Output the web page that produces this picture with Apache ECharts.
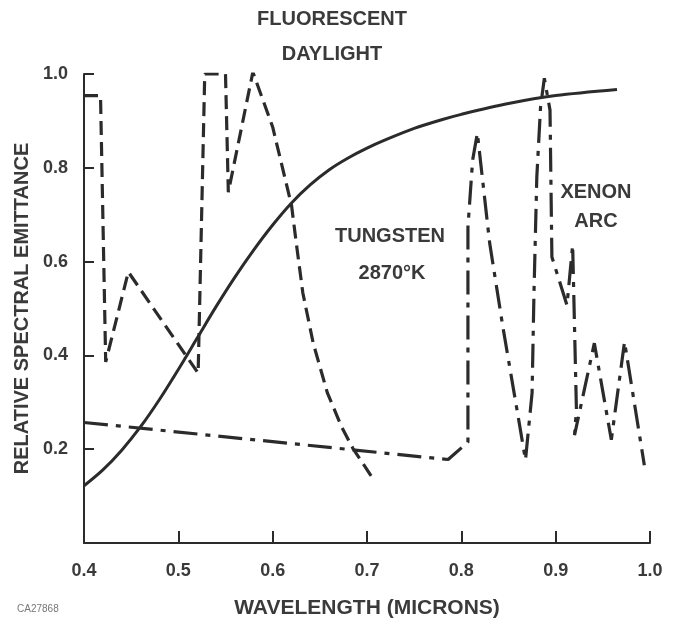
<!DOCTYPE html>
<html>
<head>
<meta charset="utf-8">
<script src="https://cdn.jsdelivr.net/npm/echarts@6/dist/echarts.min.js"></script>
<style>
html,body{margin:0;padding:0;background:#fff;}
#c{width:678px;height:625px;}
</style>
</head>
<body>
<div id="c"></div>
<script>
// ---- data ----
const xTicks = [0.4, 0.5, 0.6, 0.7, 0.8, 0.9, 1.0];
const yTicks = [0.2, 0.4, 0.6, 0.8, 1.0];

const tungstenX = [0.40, 0.42, 0.44, 0.46, 0.48, 0.50, 0.52, 0.54, 0.56, 0.58, 0.60, 0.62, 0.64, 0.66, 0.68, 0.70, 0.72, 0.75, 0.78, 0.80, 0.85, 0.90, 0.965];
const tungstenY = [0.122, 0.156, 0.198, 0.248, 0.306, 0.370, 0.437, 0.504, 0.567, 0.625, 0.678, 0.725, 0.764, 0.796, 0.821, 0.842, 0.860, 0.884, 0.903, 0.914, 0.937, 0.954, 0.967];

const fluorX = [0.400, 0.4175, 0.423, 0.447, 0.521, 0.528, 0.550, 0.553, 0.579, 0.600, 0.611, 0.620, 0.625, 0.632, 0.643, 0.658, 0.673, 0.685, 0.705];
const fluorY = [0.954, 0.954, 0.386, 0.578, 0.362, 1.000, 1.000, 0.748, 1.004, 0.887, 0.795, 0.720, 0.640, 0.533, 0.426, 0.320, 0.248, 0.202, 0.141];

const xenonX = [0.400, 0.786, 0.807, 0.807, 0.812, 0.817, 0.830, 0.844, 0.859, 0.868, 0.875, 0.877, 0.880, 0.884, 0.888, 0.894, 0.896, 0.912, 0.918, 0.922, 0.920, 0.941, 0.959, 0.973, 0.994];
const xenonY = [0.257, 0.178, 0.215, 0.674, 0.817, 0.874, 0.640, 0.461, 0.284, 0.177, 0.320, 0.533, 0.780, 0.930, 0.991, 0.923, 0.610, 0.507, 0.635, 0.284, 0.230, 0.426, 0.220, 0.429, 0.166];

const zip = (xs, ys) => xs.map((x, i) => [x, ys[i]]);

const ink = '#2b2b2b';
const txt = '#3a3a3a';
const font = 'Liberation Sans, Arial, sans-serif';
const annot = (text, x, y) => ({type: 'text', x: x, y: y, silent: true,
  style: {text: text, fontFamily: font, fontWeight: 'bold', fontSize: 20, fill: txt, align: 'center', verticalAlign: 'middle'}});

const chart = echarts.init(document.getElementById('c'), null, {renderer: 'canvas'});
chart.setOption({
  backgroundColor: '#ffffff',
  animation: false,
  grid: {left: 84, right: 28, top: 74, bottom: 82},
  xAxis: {
    type: 'value', min: 0.4, max: 1.0, interval: 0.1,
    name: 'WAVELENGTH (MICRONS)', nameLocation: 'middle', nameGap: 55,
    nameTextStyle: {fontFamily: font, fontWeight: 'bold', fontSize: 21, color: txt},
    axisLine: {show: true, onZero: false, lineStyle: {color: ink, width: 2}},
    axisTick: {show: true, inside: true, length: 12, lineStyle: {color: ink, width: 2}},
    axisLabel: {fontFamily: font, fontWeight: 'bold', fontSize: 18, color: txt, margin: 19,
      formatter: v => v.toFixed(1)},
    splitLine: {show: false}
  },
  yAxis: {
    type: 'value', min: 0, max: 1.0, interval: 0.2,
    name: 'RELATIVE SPECTRAL EMITTANCE', nameLocation: 'middle', nameGap: 51,
    nameTextStyle: {fontFamily: font, fontWeight: 'bold', fontSize: 20, color: txt},
    axisLine: {show: true, lineStyle: {color: ink, width: 2}},
    axisTick: {show: true, inside: true, length: 10, lineStyle: {color: ink, width: 2}},
    axisLabel: {fontFamily: font, fontWeight: 'bold', fontSize: 18, color: txt, margin: 16,
      formatter: v => (yTicks.some(t => Math.abs(t - v) < 1e-9) ? v.toFixed(1) : '')},
    splitLine: {show: false}
  },
  series: [
    {
      name: 'Tungsten 2870K', type: 'line', smooth: 0.3, symbol: 'none',
      data: zip(tungstenX, tungstenY),
      lineStyle: {color: ink, width: 3}
    },
    {
      name: 'Fluorescent Daylight', type: 'line', smooth: false, symbol: 'none',
      data: zip(fluorX, fluorY),
      lineStyle: {color: ink, width: 3.2, type: [14, 7]}
    },
    {
      name: 'Xenon Arc', type: 'line', smooth: false, symbol: 'none',
      data: zip(xenonX, xenonY),
      lineStyle: {color: ink, width: 3.2, type: [24, 8, 5, 8]}
    }
  ],
  graphic: [
    annot('FLUORESCENT', 332, 19),
    annot('DAYLIGHT', 332, 54),
    annot('TUNGSTEN', 390, 236),
    annot('2870°K', 392, 273),
    annot('XENON', 596, 192),
    annot('ARC', 596, 221),
    {type: 'text', x: 17, y: 609, silent: true,
      style: {text: 'CA27868', fontFamily: font, fontSize: 10, fill: '#777', align: 'left', verticalAlign: 'middle'}}
  ]
});
</script>
</body>
</html>
